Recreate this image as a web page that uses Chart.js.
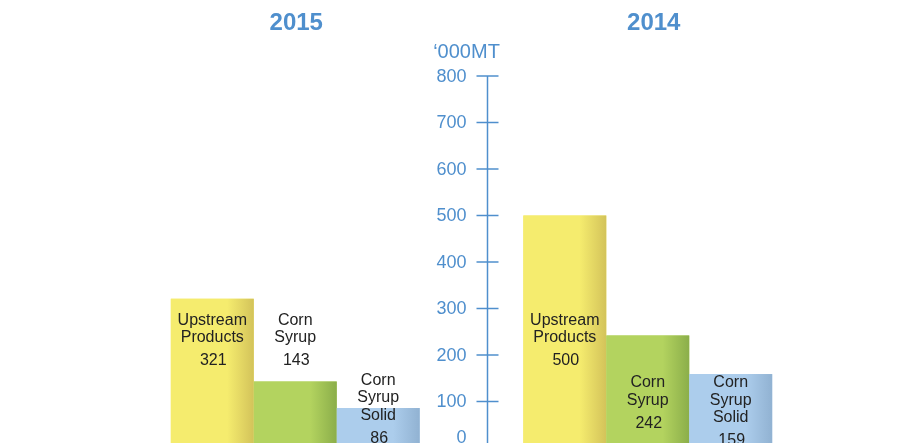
<!DOCTYPE html>
<html lang="en">
  <head>
    <meta charset="UTF-8" />
    <title>Production volume 2015 vs 2014</title>
    <style>
      html, body {
        margin: 0;
        padding: 0;
        background: #ffffff;
        overflow: hidden;
      }
      #chart {
        display: block;
      }
    </style>
    <script src="https://cdn.jsdelivr.net/npm/chart.js"></script>
  </head>
  <body>
    <canvas id="chart" width="918" height="470"></canvas>

    <script>
      // Data
      const years = ["2015", "2014"];
      const productNames = [
        ["Upstream", "Products"],
        ["Corn", "Syrup"],
        ["Corn", "Syrup", "Solid"],
      ];
      const upstreamProducts = [321, 500];
      const cornSyrup = [143, 242];
      const cornSyrupSolid = [86, 159];
      const yTicks = [0, 100, 200, 300, 400, 500, 600, 700, 800];
      const unitLabel = "\u2018000MT";

      const FONT = "'Liberation Sans', Arial, Helvetica, sans-serif";
      const BLUE = "#4f8fcd";

      // base colour + darker right edge for each product
      const fills = [
        ["#f5ec6e", "#d3c35a"],
        ["#b3d35f", "#8bae4a"],
        ["#accdec", "#91b2d2"],
      ];

      // value (in '000MT) where the first label line sits, per product & year
      const labelAnchor = [
        [275, 275],
        [275, 140],
        [145, 140],
      ];

      const decorPlugin = {
        id: "decor",
        afterDatasetsDraw(chart) {
          const ctx = chart.ctx;
          const y = chart.scales.y;
          const x = chart.scales.x;
          const area = chart.chartArea;

          // darker shading on the right edge of each bar
          chart.data.datasets.forEach((ds, di) => {
            chart.getDatasetMeta(di).data.forEach((bar) => {
              const left = bar.x - bar.width / 2;
              const right = bar.x + bar.width / 2;
              const g = ctx.createLinearGradient(left, 0, right, 0);
              g.addColorStop(0, fills[di][0]);
              g.addColorStop(0.68, fills[di][0]);
              g.addColorStop(1, fills[di][1]);
              ctx.fillStyle = g;
              ctx.fillRect(left, bar.y, bar.width, bar.base - bar.y);
            });
          });

          // product labels and values
          ctx.save();
          ctx.fillStyle = "#222222";
          ctx.font = "16px " + FONT;
          ctx.textAlign = "center";
          ctx.textBaseline = "middle";
          chart.data.datasets.forEach((ds, di) => {
            chart.getDatasetMeta(di).data.forEach((bar, i) => {
              let ly = y.getPixelForValue(labelAnchor[di][i]);
              productNames[di].forEach((line) => {
                ctx.fillText(line, bar.x, ly);
                ly += 17.5;
              });
              ctx.fillText(String(ds.data[i]), bar.x + 1, ly + 5.5);
            });
          });
          ctx.restore();

          // year titles
          ctx.save();
          ctx.fillStyle = BLUE;
          ctx.font = "bold 24px " + FONT;
          ctx.textAlign = "center";
          ctx.textBaseline = "middle";
          years.forEach((yr, i) => {
            ctx.fillText(yr, x.getPixelForValue(i) + (i === 1 ? 6 : 1), 23);
          });
          ctx.restore();

          // central value axis
          const axisX = (area.left + area.right) / 2 + 16;
          ctx.save();
          ctx.strokeStyle = BLUE;
          ctx.lineWidth = 1.5;
          ctx.beginPath();
          ctx.moveTo(axisX, y.getPixelForValue(yTicks[yTicks.length - 1]));
          ctx.lineTo(axisX, chart.height);
          ctx.stroke();
          ctx.fillStyle = BLUE;
          ctx.font = "18px " + FONT;
          ctx.textAlign = "right";
          ctx.textBaseline = "middle";
          yTicks.forEach((t) => {
            const py = y.getPixelForValue(t);
            ctx.beginPath();
            ctx.moveTo(axisX - 11, py);
            ctx.lineTo(axisX + 11, py);
            ctx.stroke();
            // the zero label sits a little above its tick
            ctx.fillText(String(t), axisX - 21, t === 0 ? py - 10 : py + 1);
          });
          ctx.textAlign = "center";
          ctx.font = "20px " + FONT;
          ctx.fillText(unitLabel, axisX - 21, 52);
          ctx.restore();
        },
      };

      new Chart(document.getElementById("chart"), {
        type: "bar",
        data: {
          labels: years,
          datasets: [
            { label: "Upstream Products", data: upstreamProducts, backgroundColor: fills[0][0] },
            { label: "Corn Syrup", data: cornSyrup, backgroundColor: fills[1][0] },
            { label: "Corn Syrup Solid", data: cornSyrupSolid, backgroundColor: fills[2][0] },
          ],
        },
        options: {
          responsive: false,
          animation: false,
          devicePixelRatio: 1,
          layout: {
            padding: { top: 76, bottom: 22, left: 119, right: 94 },
          },
          datasets: {
            bar: {
              barPercentage: 1,
              categoryPercentage: 0.706,
              borderWidth: 0,
            },
          },
          scales: {
            x: { display: false },
            y: { display: false, min: 0, max: 800 },
          },
          plugins: {
            legend: { display: false },
            tooltip: { enabled: false },
          },
        },
        plugins: [decorPlugin],
      });
    </script>
  </body>
</html>
